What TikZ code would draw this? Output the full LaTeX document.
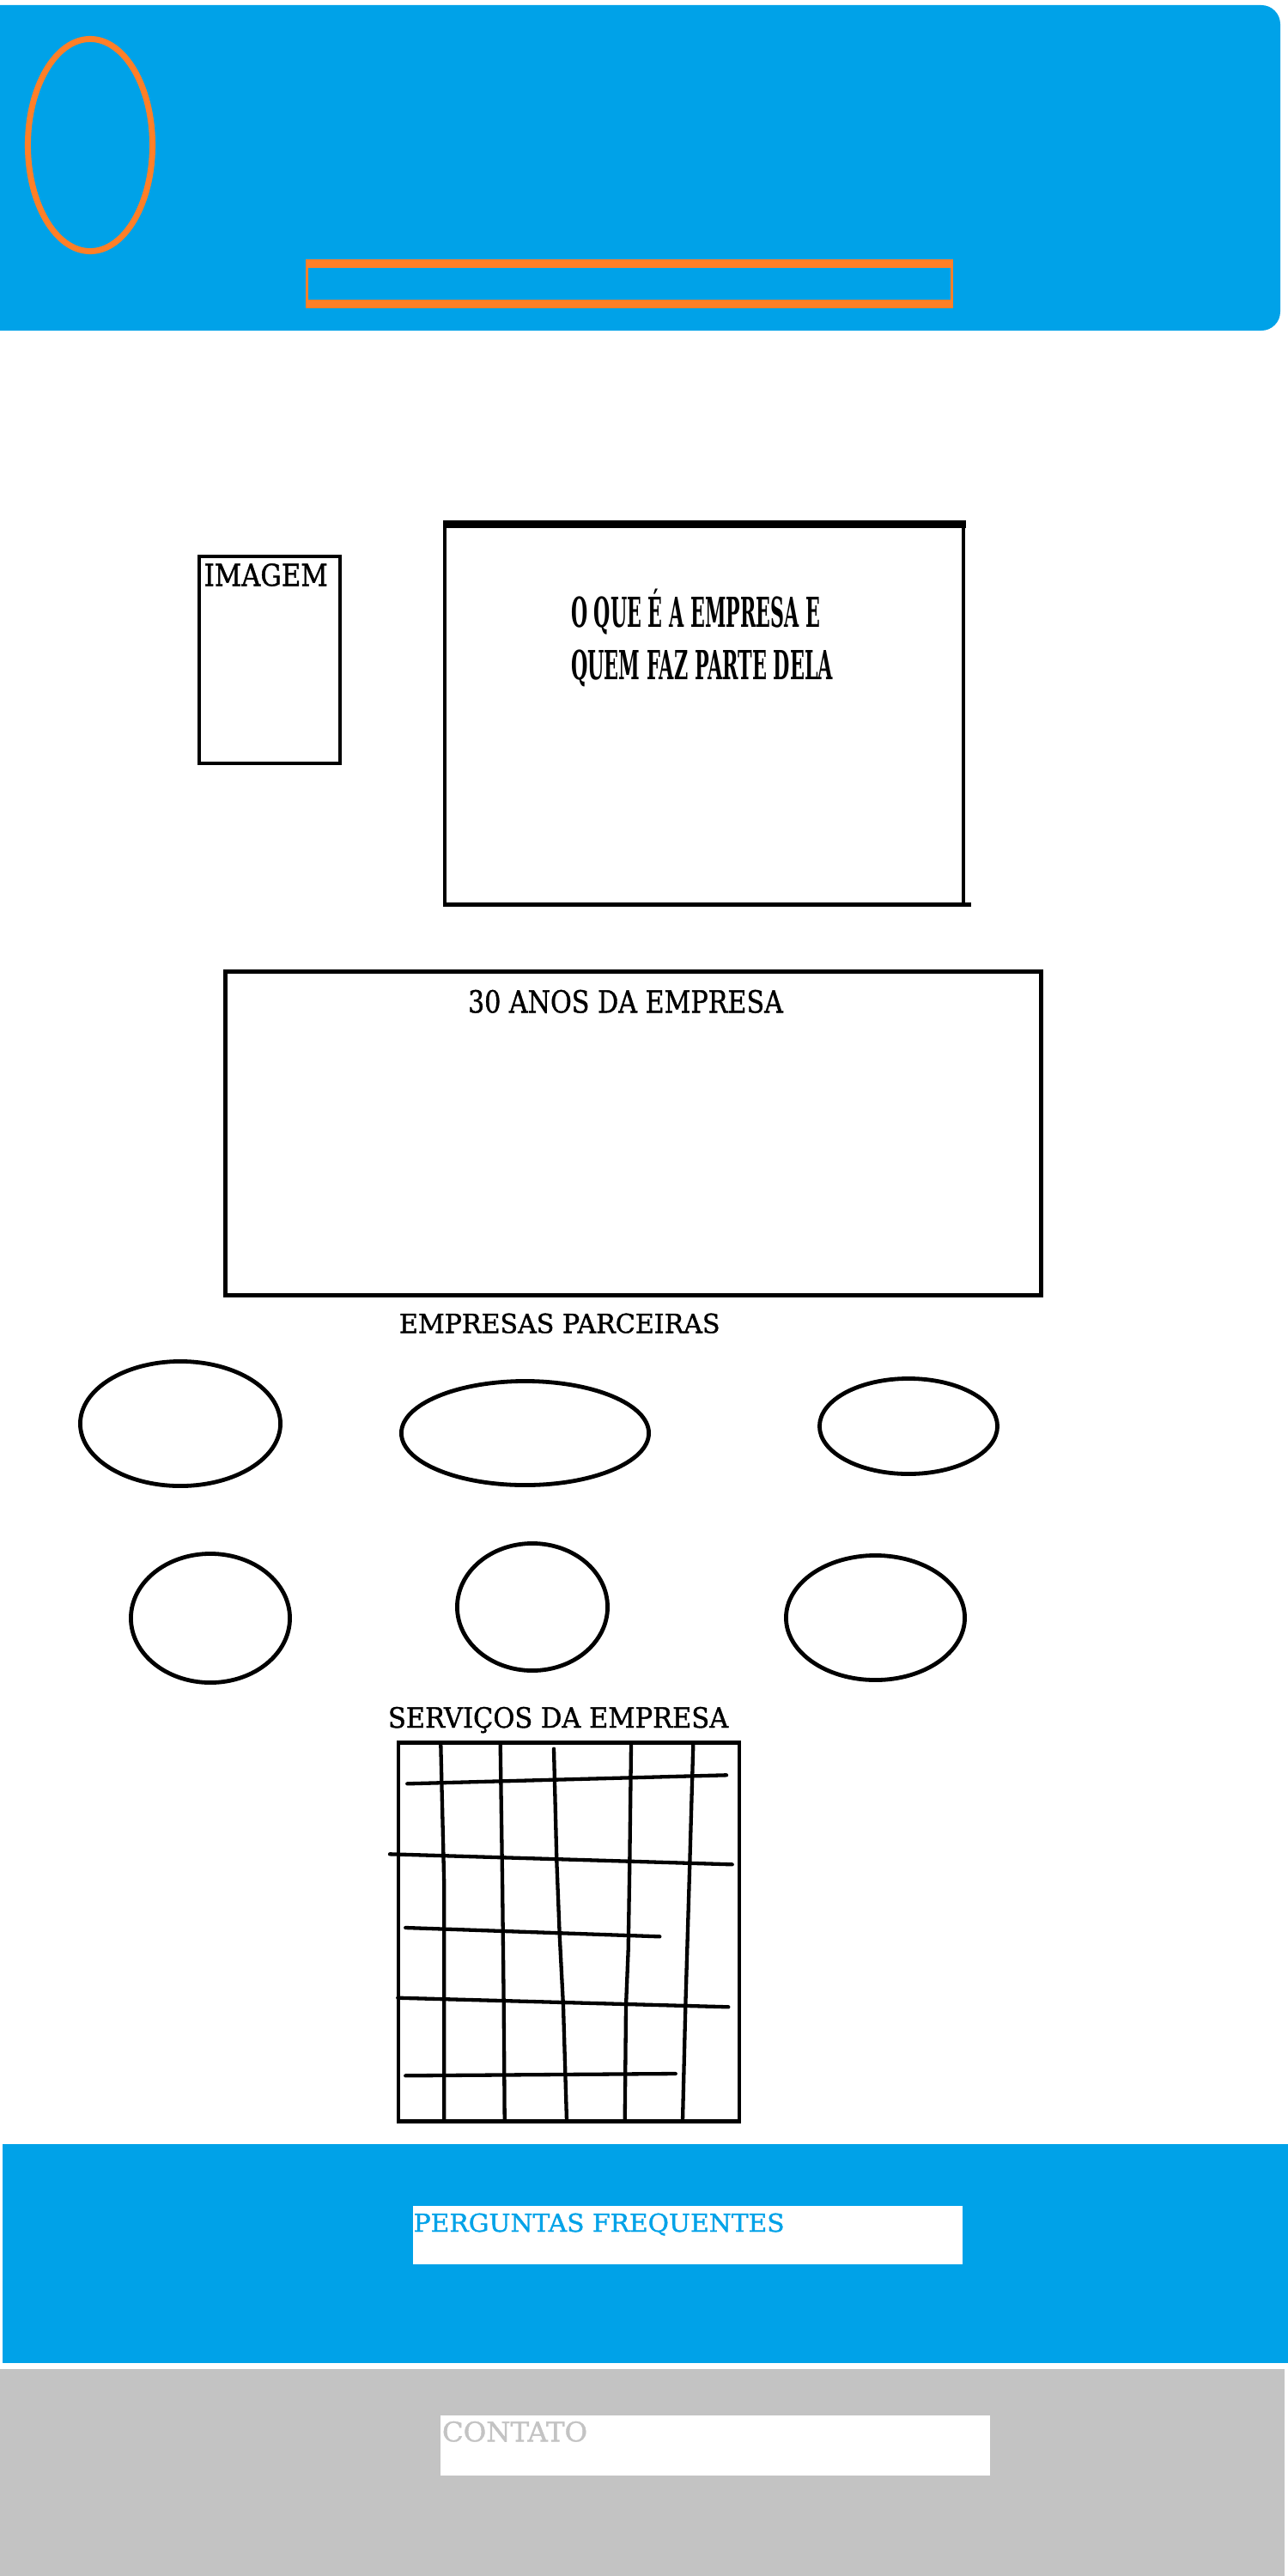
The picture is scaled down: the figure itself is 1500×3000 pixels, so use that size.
\documentclass[tikz,border=0pt]{standalone}
\usepackage{fontspec}
\setmainfont{DejaVu Serif}
\newfontfamily\medserif[FakeBold=1.2]{DejaVu Serif}
\usepackage{graphicx}
\usetikzlibrary{shapes.geometric}
\definecolor{hblue}{HTML}{00A2E8}
\definecolor{horange}{HTML}{FF7F27}
\definecolor{fgray}{HTML}{C3C3C3}
\newlength\fitcapht
\newcommand\fittext[3]{\settoheight{\fitcapht}{X}\resizebox{#1}{#2}{\raisebox{0pt}[\fitcapht][0pt]{#3}}}
\begin{document}
\begin{tikzpicture}[x=0.01cm,y=-0.01cm,
  lbl/.style={anchor=base west, inner sep=0pt, outer sep=0pt, font=\medserif},
  frame/.style={draw=black, line width=0.045cm},
  gridline/.style={draw=black, line width=0.043cm, line cap=round, line join=round},
  partner/.style={ellipse, draw=black, line width=0.048cm, inner sep=0pt}]
\useasboundingbox (0,0) rectangle (1500,3000);
\fill[white] (0,0) rectangle (1500,3000);

% header
\fill[hblue] (0,6) -- (1400,6) [rounded corners=0.22cm] -- (1491,6) -- (1491,385) -- (1400,385) [sharp corners] -- (0,385) -- cycle;
\node[ellipse, draw=horange, line width=0.07cm, inner sep=0pt, minimum width=1.45cm, minimum height=2.47cm] (logo) at (105,169) {};
\fill[horange] (356,302) rectangle (1110,359);
\fill[hblue] (359,312) rectangle (1107,349);

% image box
\draw[frame] (232,648) rectangle (396,889);
\node[lbl] (imgtxt) at (237.7,682.3) {\fittext{1.44cm}{0.256cm}{IMAGEM}};

% about box
\fill[black] (515.5,606) rectangle (1124.5,615);
\draw[frame] (518,612) -- (518,1054);
\draw[frame] (1122,612) -- (1122,1052);
\draw[frame] (516,1053.5) -- (1131,1053.5);
\node[lbl, font=\rmfamily\bfseries] (about1) at (665,730) {\fittext{2.9cm}{0.35cm}{O QUE É A EMPRESA E}};
\node[lbl, font=\rmfamily\bfseries] (about2) at (665,791) {\fittext{3.05cm}{0.34cm}{QUEM FAZ PARTE DELA}};

% 30 anos
\draw[frame, line width=0.05cm] (262.5,1131.7) rectangle (1212,1508.7);
\node[lbl] (anos) at (545,1179.3) {\fittext{3.667cm}{0.26cm}{30 ANOS DA EMPRESA}};

% parceiras
\node[lbl] (parc) at (465,1552.3) {\fittext{3.733cm}{0.223cm}{EMPRESAS PARCEIRAS}};
\node[partner, minimum width=2.33cm, minimum height=1.45cm] (e1) at (210,1658) {};
\node[partner, minimum width=2.88cm, minimum height=1.21cm] (e2) at (611.5,1669) {};
\node[partner, minimum width=2.07cm, minimum height=1.11cm] (e3) at (1058,1661) {};
\node[partner, minimum width=1.85cm, minimum height=1.50cm] (e4) at (245,1884.5) {};
\node[partner, minimum width=1.75cm, minimum height=1.48cm] (e5) at (620,1871.5) {};
\node[partner, minimum width=2.08cm, minimum height=1.45cm] (e6) at (1019.5,1884) {};

% servicos
\node[lbl] (serv) at (452,2012) {\fittext{3.96cm}{0.237cm}{SERVIÇOS DA EMPRESA}};
\draw[frame] (464,2029.7) rectangle (861,2470.5);
\draw[gridline] (513.3,2031.7) -- (517.3,2196.7) -- (517.3,2470);
\draw[gridline] (582.7,2031.7) -- (585,2186.7) -- (586.7,2336.7) -- (587.7,2470);
\draw[gridline] (645,2036.7) -- (648.3,2166.7) -- (651.7,2253.3) -- (656,2336.7) -- (660,2470);
\draw[gridline] (735,2031.7) -- (733.3,2170) -- (731.7,2270) -- (729,2336.7) -- (727.7,2470);
\draw[gridline] (807.3,2031.7) -- (803.3,2170) -- (798.3,2336.7) -- (795,2470);
\draw[gridline] (474.3,2077.3) -- (846,2067.3);
\draw[gridline] (454,2159.3) -- (852.7,2171.3);
\draw[gridline] (472.3,2245) -- (768.3,2255.3);
\draw[gridline] (463.3,2326.7) -- (848.3,2337.3);
\draw[gridline] (472.3,2417.3) -- (786.7,2415);

% footer
\fill[hblue] (3,2497) rectangle (1500,2752);
\fill[white] (481,2569) rectangle (1121,2637);
\node[lbl, text=hblue] (faq) at (481.7,2599) {\fittext{4.316cm}{0.21cm}{PERGUNTAS FREQUENTES}};
\fill[fgray] (0,2759) rectangle (1496,3000);
\fill[white] (513,2813) rectangle (1153,2883);
\node[lbl, text=fgray] (contato) at (515,2843.3) {\fittext{1.69cm}{0.23cm}{CONTATO}};
\end{tikzpicture}
\end{document}
